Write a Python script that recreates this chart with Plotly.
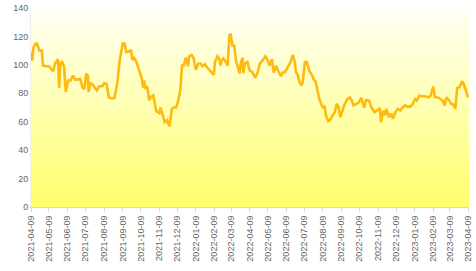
import plotly.graph_objects as go

dates = [
    "2021-04-09", "2021-04-11", "2021-04-13", "2021-04-17", "2021-04-19", "2021-04-23", "2021-04-27", "2021-04-29",
    "2021-05-05", "2021-05-09", "2021-05-13", "2021-05-16", "2021-05-19", "2021-05-23", "2021-05-24", "2021-05-26",
    "2021-05-28", "2021-05-31", "2021-06-03", "2021-06-06", "2021-06-10", "2021-06-14", "2021-06-18", "2021-06-22",
    "2021-06-26", "2021-06-30", "2021-07-04", "2021-07-07", "2021-07-10", "2021-07-13", "2021-07-14", "2021-07-17",
    "2021-07-20", "2021-07-24", "2021-07-28", "2021-08-01", "2021-08-06", "2021-08-09", "2021-08-13", "2021-08-17",
    "2021-08-21", "2021-08-26", "2021-08-29", "2021-08-31", "2021-09-04", "2021-09-09", "2021-09-12", "2021-09-15",
    "2021-09-20", "2021-09-23", "2021-09-25", "2021-09-28", "2021-10-02", "2021-10-06", "2021-10-11", "2021-10-13",
    "2021-10-15", "2021-10-17", "2021-10-20", "2021-10-23", "2021-10-26", "2021-10-30", "2021-11-02", "2021-11-04",
    "2021-11-09", "2021-11-11", "2021-11-15", "2021-11-18", "2021-11-22", "2021-11-26", "2021-11-30", "2021-12-03",
    "2021-12-07", "2021-12-10", "2021-12-14", "2021-12-17", "2021-12-20", "2021-12-23", "2021-12-25", "2021-12-27",
    "2021-12-29", "2022-01-02", "2022-01-05", "2022-01-09", "2022-01-13", "2022-01-17", "2022-01-20", "2022-01-24",
    "2022-01-27", "2022-02-02", "2022-02-08", "2022-02-10", "2022-02-14", "2022-02-17", "2022-02-19", "2022-02-21",
    "2022-02-24", "2022-02-28", "2022-03-03", "2022-03-06", "2022-03-08", "2022-03-11", "2022-03-14", "2022-03-17",
    "2022-03-21", "2022-03-23", "2022-03-25", "2022-03-28", "2022-03-29", "2022-04-01", "2022-04-05", "2022-04-09",
    "2022-04-13", "2022-04-18", "2022-04-22", "2022-04-26", "2022-05-01", "2022-05-05", "2022-05-08", "2022-05-12",
    "2022-05-16", "2022-05-19", "2022-05-23", "2022-05-26", "2022-05-31", "2022-06-03", "2022-06-07", "2022-06-12",
    "2022-06-16", "2022-06-20", "2022-06-23", "2022-06-25", "2022-06-28", "2022-07-01", "2022-07-04", "2022-07-06",
    "2022-07-10", "2022-07-13", "2022-07-18", "2022-07-21", "2022-07-25", "2022-07-28", "2022-07-31", "2022-08-03",
    "2022-08-06", "2022-08-09", "2022-08-12", "2022-08-14", "2022-08-18", "2022-08-21", "2022-08-25", "2022-08-29",
    "2022-09-01", "2022-09-04", "2022-09-07", "2022-09-11", "2022-09-14", "2022-09-19", "2022-09-23", "2022-09-26",
    "2022-09-29", "2022-10-04", "2022-10-08", "2022-10-12", "2022-10-17", "2022-10-20", "2022-10-25", "2022-10-29",
    "2022-11-03", "2022-11-08", "2022-11-12", "2022-11-14", "2022-11-18", "2022-11-20", "2022-11-23", "2022-11-27",
    "2022-12-01", "2022-12-04", "2022-12-08", "2022-12-12", "2022-12-16", "2022-12-20", "2022-12-24", "2022-12-28",
    "2023-01-02", "2023-01-06", "2023-01-10", "2023-01-13", "2023-01-17", "2023-01-21", "2023-01-27", "2023-02-01",
    "2023-02-05", "2023-02-09", "2023-02-12", "2023-02-16", "2023-02-20", "2023-02-25", "2023-02-28", "2023-03-03",
    "2023-03-08", "2023-03-11", "2023-03-15", "2023-03-18", "2023-03-21", "2023-03-25", "2023-03-29", "2023-03-31",
    "2023-04-04", "2023-04-08",
]

values = [
    109, 103, 112, 115, 115, 110, 110, 99.5,
    99, 99, 97, 95.5, 100.7, 103.5, 104, 84,
    101, 102, 99, 81, 89, 89, 92.5, 89.5,
    89.5, 90, 84, 83, 93.7, 92.5, 81, 87,
    86.5, 84, 82, 85, 85, 87, 86.5, 77,
    76.5, 76.5, 83, 87, 103, 115, 115, 109,
    109.5, 110.5, 103.5, 105, 102, 96, 90, 84,
    89, 83, 85, 75, 77.5, 78.5, 72.6, 67.4,
    66, 70, 64.4, 59.7, 61, 56.7, 69, 70,
    70, 73.7, 82, 99.5, 99.5, 105, 103.5, 99,
    106, 107, 105, 96.5, 101, 101, 99, 100.5,
    98.5, 96, 93, 102, 106, 104.5, 99.5, 103,
    104.5, 102, 99.5, 120.6, 122, 113.6, 113.6, 103,
    97, 94, 101.5, 105, 94, 101, 102, 96,
    95, 91, 94.5, 101, 103.5, 106, 104, 99.5,
    104, 94.5, 99.5, 96, 92, 94.5, 95, 98.5,
    102, 107, 102, 95, 93, 88, 85.6, 87,
    102, 102, 95, 93.5, 89.5, 88, 82, 76,
    72.6, 70, 70.6, 64.4, 60.4, 61, 64.4, 66.7,
    72.6, 70.6, 63.2, 67.9, 72, 76, 77.2, 75,
    71.5, 72.6, 73.7, 76.8, 70, 75.3, 74.8, 70,
    66.7, 67.9, 69.8, 59.7, 67.9, 64.4, 69.1, 63.2,
    65.6, 62, 66.7, 69.1, 67.9, 70, 71.5, 70.6,
    70.6, 72.6, 76, 74.8, 78.4, 77.9, 77.9, 77.2,
    78.4, 84.8, 77.2, 77.2, 76, 74.8, 71.4, 77.2,
    74.8, 72.6, 72, 69.1, 83.8, 84.3, 88.5, 87.3,
    83, 77.2,
]

tick_vals = [
    "2021-04-09", "2021-05-09", "2021-06-09", "2021-07-09", "2021-08-09", "2021-09-09", "2021-10-09",
    "2021-11-09", "2021-12-09", "2022-01-09", "2022-02-09", "2022-03-09", "2022-04-09", "2022-05-09",
    "2022-06-09", "2022-07-09", "2022-08-09", "2022-09-09", "2022-10-09", "2022-11-09", "2022-12-09",
    "2023-01-09", "2023-02-09", "2023-03-09", "2023-04-09",
]

y_ticks = [0, 20, 40, 60, 80, 100, 120, 140]

x_range = ["2021-04-09", "2023-04-09 18:00"]
y_range = [0, 140]

fig = go.Figure()

# gradient background of the plotting area, spanning the axis ranges
fig.add_trace(go.Scatter(
    x=[x_range[0], x_range[1], x_range[1], x_range[0], x_range[0]],
    y=[y_range[0], y_range[0], y_range[1], y_range[1], y_range[0]],
    mode="lines", line=dict(width=0),
    fill="toself",
    fillgradient=dict(type="vertical", start=y_range[0], stop=y_range[1],
                      colorscale=[[0, "#FFFF6A"], [1, "#FFFFF6"]]),
    hoverinfo="skip", showlegend=False,
))

fig.add_trace(go.Scatter(
    x=dates, y=values, mode="lines",
    line=dict(color="#FFBA12", width=2.6),
    showlegend=False,
))

fig.update_layout(
    width=476, height=271,
    margin=dict(l=31, r=3, t=7, b=64),
    paper_bgcolor="white", plot_bgcolor="white",
    font=dict(family="Liberation Sans, Arial, sans-serif", size=9, color="#666666"),
    xaxis=dict(
        type="date", range=x_range,
        tickmode="array", tickvals=tick_vals, ticktext=tick_vals,
        tickangle=-90, showgrid=False, zeroline=False,
        showline=True, linecolor="#D9D9D9", linewidth=1,
        ticks="outside", ticklen=4, tickcolor="#D9D9D9",
        tickfont=dict(size=9, color="#666666"),
        ticklabeloverflow="allow",
    ),
    yaxis=dict(
        range=y_range, tickmode="array", tickvals=y_ticks,
        showgrid=False, zeroline=False,
        showline=True, linecolor="#EEEEEE", linewidth=1,
        ticks="", tickfont=dict(size=9, color="#666666"),
    ),
)

fig.write_html("out.html")
